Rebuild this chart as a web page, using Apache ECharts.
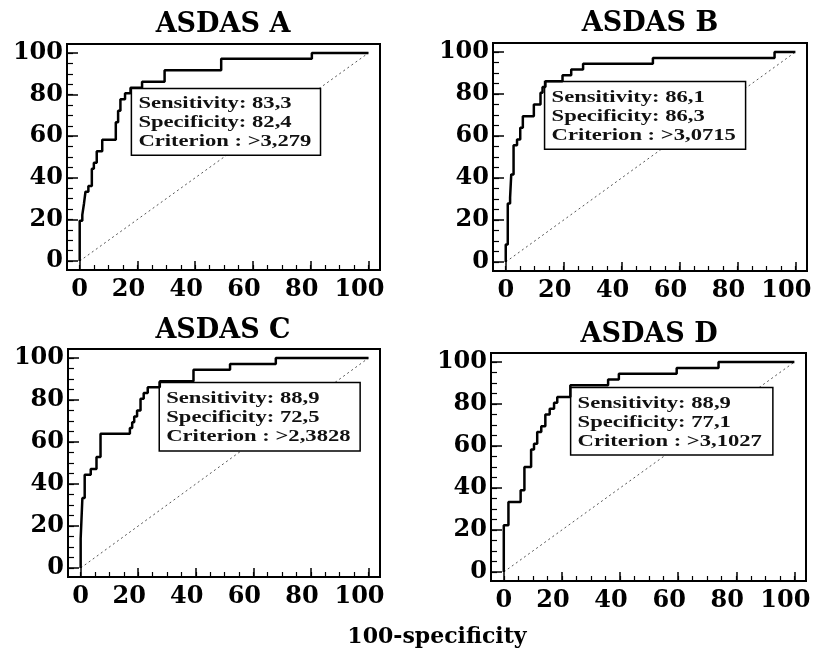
<!DOCTYPE html>
<html><head><meta charset="utf-8">
<script src="https://cdn.jsdelivr.net/npm/echarts@6/dist/echarts.min.js"></script>
<style>html,body{margin:0;padding:0;background:#fff}#c{width:819px;height:648px}</style>
</head><body><div id="c"></div>
<script>
// ---------- data ----------
const panelTitles = ['ASDAS A', 'ASDAS B', 'ASDAS C', 'ASDAS D'];
const xAxisTitle = '100-specificity';
const tickValues = [0, 20, 40, 60, 80, 100];
const minorTickValues = [0, 5, 10, 15, 20, 25, 30, 35, 40, 45, 50, 55, 60, 65, 70, 75, 80, 85, 90, 95, 100];
const diagonalX = [0, 100];
const diagonalY = [0, 100];

// ROC vertices (100-specificity, sensitivity)
const fprA = [0, 0, 0.9, 1.5, 2.0, 3.0, 4.2, 4.9, 5.9, 7.8, 12.5, 13.3, 14.1, 15.7, 17.6, 21.6, 29.4, 49.0, 80.4, 100];
const tprA = [0, 19.4, 22.2, 27.8, 33.3, 36.1, 44.4, 47.2, 52.8, 58.3, 66.7, 72.2, 77.8, 80.6, 83.3, 86.1, 91.7, 97.2, 100, 100];

const fprB = [0, 0, 0.7, 1.5, 1.9, 2.7, 3.9, 5.0, 5.9, 9.7, 12.0, 12.7, 13.7, 19.6, 22.6, 26.7, 50.8, 92.8, 100];
const tprB = [0, 8.3, 27.8, 30.6, 41.7, 55.6, 58.3, 63.9, 69.4, 75.0, 80.6, 83.3, 86.1, 88.9, 91.7, 94.4, 97.2, 100, 100];

const fprC = [0, 0, 0.6, 1.4, 3.5, 5.5, 6.9, 17.1, 17.9, 18.6, 19.6, 20.8, 21.9, 23.3, 27.5, 39.2, 51.9, 67.8, 100];
const tprC = [0, 13.9, 33.3, 44.4, 47.2, 52.8, 63.9, 66.7, 69.4, 72.2, 75.0, 80.6, 83.3, 86.1, 88.9, 94.4, 97.2, 100, 100];

const fprD = [0, 0, 1.6, 5.8, 7.1, 9.4, 10.4, 11.5, 12.9, 14.3, 15.8, 17.3, 18.4, 22.9, 35.9, 39.6, 59.5, 73.9, 100];
const tprD = [0, 22.2, 33.3, 38.9, 50.0, 58.3, 61.1, 66.7, 69.4, 75.0, 77.8, 80.6, 83.3, 88.9, 91.7, 94.4, 97.2, 100, 100];

const boxTextA = ['Sensitivity: 83,3', 'Specificity: 82,4', 'Criterion : >3,279'];
const boxTextB = ['Sensitivity: 86,1', 'Specificity: 86,3', 'Criterion : >3,0715'];
const boxTextC = ['Sensitivity: 88,9', 'Specificity: 72,5', 'Criterion : >2,3828'];
const boxTextD = ['Sensitivity: 88,9', 'Specificity: 77,1', 'Criterion : >3,1027'];

// ---------- layout ----------
const FONT = '"DejaVu Serif", "Liberation Serif", serif';
const BOX_FONT = '"Liberation Serif", "Times New Roman", serif';
const panels = [
  { fpr: fprA, tpr: tprA, text: boxTextA, grid: { left: 67, top: 44, width: 313, height: 226 }, box: [17.9, 82.9, 83.4, 50.8], title: [223, 25] },
  { fpr: fprB, tpr: tprB, text: boxTextB, grid: { left: 493, top: 43, width: 314, height: 228 }, box: [13.4, 86.0, 82.8, 53.7], title: [650, 24] },
  { fpr: fprC, tpr: tprC, text: boxTextC, grid: { left: 68, top: 349, width: 312, height: 228 }, box: [27.3, 88.3, 97.1, 55.7], title: [223, 331] },
  { fpr: fprD, tpr: tprD, text: boxTextD, grid: { left: 491, top: 353, width: 315, height: 228 }, box: [23.0, 87.9, 92.6, 55.7], title: [649, 335] }
];
const X_MIN = -4.4, X_MAX = 104, Y_MIN = -4.3, Y_MAX = 104.3;

function staircase(xs, ys) {
  const pts = [[xs[0], ys[0]]];
  for (let i = 1; i < xs.length; i++) {
    pts.push([xs[i], ys[i - 1]]);
    pts.push([xs[i], ys[i]]);
  }
  return pts;
}

const grids = [], xAxes = [], yAxes = [], series = [], titles = [];
const labelBase = { fontFamily: FONT, fontWeight: 'bold', fontSize: 24, color: '#000' };
const axisLineStyle = { show: true, onZero: false, lineStyle: { color: '#000', width: 2 } };

panels.forEach((p, i) => {
  grids.push(Object.assign({ show: true, borderColor: '#000', borderWidth: 2, backgroundColor: 'transparent' }, p.grid));
  // main x axis (labels + major ticks)
  xAxes.push({
    gridIndex: i, type: 'value', min: X_MIN, max: X_MAX, position: 'bottom',
    axisLine: axisLineStyle, splitLine: { show: false },
    axisTick: { show: true, inside: true, length: 9, customValues: tickValues, lineStyle: { color: '#000', width: 1.5 } },
    axisLabel: {
      show: true, margin: 8, customValues: tickValues,
      formatter: v => (v === 0 ? '{z|0}' : '{s|' + v + '}'),
      rich: { z: Object.assign({}, labelBase), s: Object.assign({ padding: [0, 18, 0, 0] }, labelBase) }
    }
  });
  // minor x ticks
  xAxes.push({
    gridIndex: i, type: 'value', min: X_MIN, max: X_MAX, position: 'bottom',
    axisLine: axisLineStyle, splitLine: { show: false },
    axisTick: { show: true, inside: true, length: 5, customValues: minorTickValues, lineStyle: { color: '#000', width: 1.2 } },
    axisLabel: { show: false }
  });
  yAxes.push({
    gridIndex: i, type: 'value', min: Y_MIN, max: Y_MAX, position: 'left',
    axisLine: axisLineStyle, splitLine: { show: false },
    axisTick: { show: true, inside: true, length: 11, customValues: tickValues, lineStyle: { color: '#000', width: 1.5 } },
    axisLabel: Object.assign({ show: true, margin: 4, customValues: tickValues }, labelBase)
  });
  yAxes.push({
    gridIndex: i, type: 'value', min: Y_MIN, max: Y_MAX, position: 'left',
    axisLine: axisLineStyle, splitLine: { show: false },
    axisTick: { show: true, inside: true, length: 6, customValues: minorTickValues, lineStyle: { color: '#000', width: 1.2 } },
    axisLabel: { show: false }
  });

  // diagonal reference line
  series.push({
    type: 'line', xAxisIndex: 2 * i, yAxisIndex: 2 * i, z: 2, symbol: 'none', silent: true,
    data: diagonalX.map((x, k) => [x, diagonalY[k]]),
    lineStyle: { color: '#555', width: 1, type: [2, 3] }
  });
  // annotation box
  const lines = p.text;
  series.push({
    type: 'custom', xAxisIndex: 2 * i, yAxisIndex: 2 * i, z: 3, silent: true,
    encode: { x: [0, 2], y: [1, 3] },
    data: [p.box],
    renderItem: (params, api) => {
      const a = api.coord([api.value(0), api.value(1)]);
      const b = api.coord([api.value(2), api.value(3)]);
      return {
        type: 'group', children: [
          { type: 'rect', shape: { x: a[0], y: a[1], width: b[0] - a[0], height: b[1] - a[1] },
            style: { fill: '#fff', stroke: '#000', lineWidth: 1.5 } },
          { type: 'text', x: a[0] + 7, y: (a[1] + b[1]) / 2 + 1, scaleX: 1.33, scaleY: 1,
            style: { text: lines.join('\n'), fontFamily: BOX_FONT, fontWeight: 'bold', fontSize: 17, lineHeight: 19,
                     fill: '#111', verticalAlign: 'middle', align: 'left' } }
        ]
      };
    }
  });
  // ROC curve
  series.push({
    type: 'line', xAxisIndex: 2 * i, yAxisIndex: 2 * i, z: 4, symbol: 'none', silent: true,
    data: staircase(p.fpr, p.tpr),
    lineStyle: { color: '#000', width: 2.5 }
  });

  titles.push({
    text: panelTitles[i], left: p.title[0], top: p.title[1], textAlign: 'center', textVerticalAlign: 'middle', padding: 0,
    textStyle: { fontFamily: FONT, fontWeight: 'bold', fontSize: 27, color: '#000' }
  });
});

titles.push({
  text: xAxisTitle, left: 437, top: 637, textAlign: 'center', textVerticalAlign: 'middle', padding: 0,
  textStyle: { fontFamily: FONT, fontWeight: 'bold', fontSize: 22, color: '#000' }
});

const chart = echarts.init(document.getElementById('c'), null, { renderer: 'canvas' });
chart.setOption({
  animation: false,
  backgroundColor: '#fff',
  title: titles,
  grid: grids,
  xAxis: xAxes,
  yAxis: yAxes,
  series: series
});
</script>
</body></html>
